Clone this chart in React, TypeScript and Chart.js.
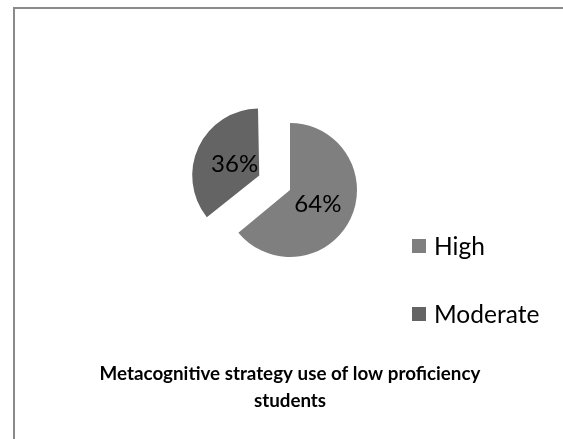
import React, { useEffect, useRef } from 'react';
import { Chart, registerables } from 'chart.js';

Chart.register(...registerables);

// ---- data ----
const categories = ['High', 'Moderate'];
const values = [64, 36];
const titleLines = ['Metacognitive strategy use of low proficiency', 'students'];

// ---- styles ----
const sliceColors = ['#7f7f7f', '#646464'];
const FONT = 'Lato, "Open Sans", sans-serif';

// Chart.js enlarges an offset arc's radius a little; keep exploded slices at the same radius.
const explodeFix = {
  id: 'explodeFix',
  afterDatasetUpdate(chart: any, args: any) {
    args.meta.data.forEach((arc: any) => {
      const off = ((arc.options && arc.options.offset) || 0) / 4;
      const fix = 1 - Math.sin(Math.min(Math.PI, arc.circumference || 0));
      arc.outerRadius = Math.max(arc.outerRadius - off * fix, 0);
    });
  },
};

const sliceLabels = {
  id: 'sliceLabels',
  afterDatasetsDraw(chart: any, _args: any, opts: any) {
    const { ctx } = chart;
    const meta = chart.getDatasetMeta(0);
    const data: number[] = chart.data.datasets[0].data;
    const total = data.reduce((a, b) => a + b, 0);
    ctx.save();
    ctx.font = opts.font;
    ctx.fillStyle = opts.color;
    ctx.textAlign = 'center';
    ctx.textBaseline = 'alphabetic';
    const cap = ctx.measureText('0').actualBoundingBoxAscent;
    meta.data.forEach((arc: any, i: number) => {
      const mid = (arc.startAngle + arc.endAngle) / 2;
      const shift = ((arc.options && arc.options.offset) || 0) / 4;
      const r = arc.outerRadius * opts.radiusFraction + shift;
      const x = arc.x + Math.cos(mid) * r;
      const y = arc.y + Math.sin(mid) * r;
      ctx.fillText(Math.round((data[i] / total) * 100) + '%', x, y + cap / 2);
    });
    ctx.restore();
  },
};

const sideLegend = {
  id: 'sideLegend',
  afterDraw(chart: any, _args: any, opts: any) {
    const { ctx } = chart;
    const ds = chart.data.datasets[0];
    ctx.save();
    ctx.font = opts.font;
    ctx.textAlign = 'left';
    ctx.textBaseline = 'alphabetic';
    chart.data.labels.forEach((label: string, i: number) => {
      const base = opts.baseline + i * opts.spacing;
      ctx.fillStyle = ds.backgroundColor[i];
      ctx.fillRect(opts.x, base - opts.boxLift - opts.box, opts.box, opts.box);
      ctx.fillStyle = opts.color;
      ctx.fillText(label, opts.x + opts.box + opts.gap, base);
    });
    ctx.restore();
  },
};

export default function App() {
  const ref = useRef<HTMLCanvasElement>(null);
  useEffect(() => {
    const chart = new Chart(ref.current as HTMLCanvasElement, {
      type: 'pie',
      data: {
        labels: categories,
        datasets: [
          {
            data: values,
            backgroundColor: sliceColors,
            borderWidth: 0,
            offset: [0, 136],
            hoverOffset: 0,
            radius: 67,
          } as any,
        ],
      },
      options: {
        responsive: false,
        animation: false,
        layout: { padding: { left: 17, right: 0, top: 19.5, bottom: 0 } },
        plugins: {
          legend: { display: false },
          tooltip: { enabled: false },
          title: {
            display: true,
            position: 'bottom',
            text: titleLines,
            color: '#000',
            font: { family: FONT, size: 18.8, weight: 'bold', lineHeight: 27 / 18.8 },
            padding: { top: 0, bottom: 24.5 },
          },
          sliceLabels: { font: '24px ' + FONT, color: '#000', radiusFraction: 0.46 },
          sideLegend: {
            font: '24.5px ' + FONT,
            color: '#000',
            x: 412,
            baseline: 255,
            spacing: 68,
            box: 14,
            boxLift: 2,
            gap: 8,
          },
        } as any,
      },
      plugins: [explodeFix, sliceLabels, sideLegend],
    });
    return () => chart.destroy();
  }, []);

  return (
    <div style={{ position: 'absolute', left: 0, top: 0, width: 563, height: 439, background: '#fff', overflow: 'hidden' }}>
      <div
        style={{
          position: 'absolute',
          left: 13,
          top: 7,
          width: 620,
          height: 520,
          borderLeft: '2px solid #8a8a8a',
          borderTop: '2px solid #8a8a8a',
          boxSizing: 'border-box',
        }}
      />
      <canvas ref={ref} width={563} height={439} style={{ position: 'absolute', left: 0, top: 0, display: 'block' }} />
    </div>
  );
}
